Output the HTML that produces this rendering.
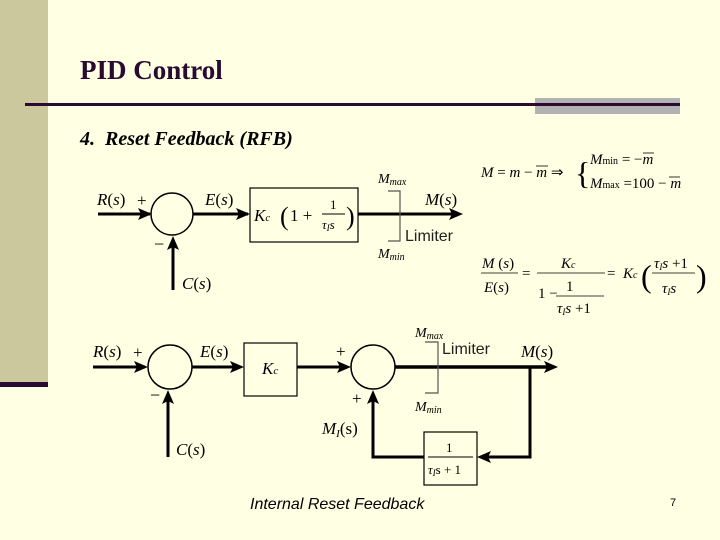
<!DOCTYPE html>
<html><head><meta charset="utf-8"><style>
body{margin:0;background:#FFFFE3;}
svg{display:block}
.s{font-family:"Liberation Serif",serif;}
</style></head><body>
<svg width="720" height="540" viewBox="0 0 720 540" xmlns="http://www.w3.org/2000/svg">
<rect width="720" height="540" fill="#FFFFE3"/>
<rect x="0" y="0" width="48" height="382" fill="#CCC89E"/>
<rect x="0" y="382" width="48" height="5" fill="#2A0A30"/>
<text x="80" y="79" class="s" font-size="27" font-weight="bold" fill="#2A0A30">PID Control</text>
<rect x="535" y="98" width="145" height="16" fill="#B2B2B2"/>
<rect x="25" y="103" width="655" height="3" fill="#2A0A30"/>
<text x="80" y="145" class="s" font-size="20" font-style="italic" font-weight="bold" fill="#000">4.&#160;&#160;Reset Feedback (RFB)</text>

<g stroke="#000" fill="none">
<line x1="98" y1="214" x2="150" y2="214" stroke-width="3"/>
<circle cx="172" cy="214" r="21" stroke-width="1.5"/>
<line x1="193" y1="214" x2="248" y2="214" stroke-width="3"/>
<rect x="250" y="188" width="108" height="54" stroke-width="1.2"/>
<line x1="358" y1="214" x2="455" y2="214" stroke-width="3"/>
<polyline points="388,191 400,191 400,241 388,241" stroke-width="1.2" stroke="#555"/>
<line x1="173" y1="290" x2="173" y2="242" stroke-width="3"/>
<line x1="93" y1="367" x2="145" y2="367" stroke-width="3"/>
<circle cx="170" cy="367" r="22" stroke-width="1.5"/>
<line x1="192" y1="367" x2="240" y2="367" stroke-width="3"/>
<rect x="244" y="343" width="53" height="53" stroke-width="1.2"/>
<line x1="297" y1="367" x2="346" y2="367" stroke-width="3"/>
<circle cx="373" cy="367" r="22" stroke-width="1.5"/>
<line x1="395" y1="367" x2="550" y2="367" stroke-width="3.5"/>
<polyline points="425,342 438,342 438,393 425,393" stroke-width="1.2" stroke="#555"/>
<polyline points="530,367 530,457 484,457" stroke-width="3"/>
<rect x="424" y="432" width="53" height="53" stroke-width="1.2"/>
<polyline points="424,457 373,457 373,398" stroke-width="3"/>
<line x1="168" y1="457" x2="168" y2="396" stroke-width="3"/>
</g>
<g fill="#000">
<polygon points="152,214 138,208 141,214 138,220"/>
<polygon points="250,214 236,208 239,214 236,220"/>
<polygon points="463,214 449,208 452,214 449,220"/>
<polygon points="173,236 167,250 173,247 179,250"/>
<polygon points="148,367 134,361 137,367 134,373"/>
<polygon points="244,367 230,361 233,367 230,373"/>
<polygon points="351,367 337,361 340,367 337,373"/>
<polygon points="558,367 544,361 547,367 544,373"/>
<polygon points="477,457 491,451 488,457 491,463"/>
<polygon points="373,390 367,404 373,401 379,404"/>
<polygon points="168,390 162,404 168,401 174,404"/>
</g>
<g class="s" font-size="17" fill="#000">
<text x="97" y="205"><tspan font-style="italic">R</tspan>(<tspan font-style="italic">s</tspan>)</text>
<text x="137" y="206">+</text>
<text x="205" y="205"><tspan font-style="italic">E</tspan>(<tspan font-style="italic">s</tspan>)</text>
<text x="425" y="205"><tspan font-style="italic">M</tspan>(<tspan font-style="italic">s</tspan>)</text>
<text x="182" y="289"><tspan font-style="italic">C</tspan>(<tspan font-style="italic">s</tspan>)</text>
<text x="154" y="250" font-size="18">−</text>
<text x="254" y="221"><tspan font-style="italic">K</tspan><tspan font-size="11" font-style="italic">c</tspan></text>
<text x="280" y="225" font-size="26">(</text>
<text x="290" y="221">1 +</text>
<text x="330" y="209" font-size="13">1</text>
<line x1="322" y1="214" x2="345" y2="214" stroke="#000" stroke-width="1"/>
<text x="322" y="229" font-size="13" font-style="italic">τ<tspan font-size="9" dy="2">I</tspan><tspan dy="-2">s</tspan></text>
<text x="346" y="225" font-size="26">)</text>
<text x="378" y="183" font-size="14" font-style="italic">M<tspan font-size="10" dy="2">max</tspan></text>
<text x="378" y="258" font-size="14" font-style="italic">M<tspan font-size="10" dy="2">min</tspan></text>

<text x="93" y="357"><tspan font-style="italic">R</tspan>(<tspan font-style="italic">s</tspan>)</text>
<text x="133" y="358">+</text>
<text x="200" y="357"><tspan font-style="italic">E</tspan>(<tspan font-style="italic">s</tspan>)</text>
<text x="262" y="374"><tspan font-style="italic">K</tspan><tspan font-size="11" font-style="italic">c</tspan></text>
<text x="336" y="357">+</text>
<text x="352" y="404">+</text>
<text x="150" y="401" font-size="18">−</text>
<text x="176" y="455"><tspan font-style="italic">C</tspan>(<tspan font-style="italic">s</tspan>)</text>
<text x="322" y="434"><tspan font-style="italic">M</tspan><tspan font-size="11" font-style="italic" dy="3">I</tspan><tspan dy="-3">(s)</tspan></text>
<text x="521" y="357"><tspan font-style="italic">M</tspan>(<tspan font-style="italic">s</tspan>)</text>
<text x="415" y="337" font-size="14" font-style="italic">M<tspan font-size="10" dy="2">max</tspan></text>
<text x="415" y="411" font-size="14" font-style="italic">M<tspan font-size="10" dy="2">min</tspan></text>
<text x="446" y="452" font-size="13">1</text>
<line x1="428" y1="457" x2="473" y2="457" stroke="#000" stroke-width="1"/>
<text x="428" y="474" font-size="13" font-style="italic">τ<tspan font-size="9" dy="2">I</tspan><tspan dy="-2" font-style="normal">s + 1</tspan></text>
</g>
<g font-family="Liberation Sans, sans-serif" font-size="16" fill="#222">
<text x="405" y="241">Limiter</text>
<text x="442" y="354">Limiter</text>
</g>
<text x="250" y="509" font-family="Liberation Sans, sans-serif" font-size="16" font-style="italic" fill="#000">Internal Reset Feedback</text>
<text x="670" y="506" font-family="Liberation Sans, sans-serif" font-size="11" fill="#000">7</text>

<g class="s" font-size="15" fill="#000">
<text x="481" y="177"><tspan font-style="italic">M</tspan> = <tspan font-style="italic">m</tspan> − <tspan font-style="italic">m</tspan> ⇒</text>
<line x1="536" y1="166" x2="548" y2="166" stroke="#000" stroke-width="0.8"/>
<text x="575" y="184" font-size="32" font-weight="100">{</text>
<text x="590" y="164"><tspan font-style="italic">M</tspan><tspan font-size="10">min</tspan> = −<tspan font-style="italic">m</tspan></text>
<line x1="643" y1="153" x2="654" y2="153" stroke="#000" stroke-width="0.8"/>
<text x="590" y="188"><tspan font-style="italic">M</tspan><tspan font-size="10">max</tspan> =100 − <tspan font-style="italic">m</tspan></text>
<line x1="669" y1="177" x2="680" y2="177" stroke="#000" stroke-width="0.8"/>

<text x="482" y="268"><tspan font-style="italic">M</tspan> (<tspan font-style="italic">s</tspan>)</text>
<line x1="481" y1="273" x2="518" y2="273" stroke="#000" stroke-width="0.8"/>
<text x="484" y="292"><tspan font-style="italic">E</tspan>(<tspan font-style="italic">s</tspan>)</text>
<text x="522" y="278">=</text>
<text x="561" y="268"><tspan font-style="italic">K</tspan><tspan font-size="10" font-style="italic">c</tspan></text>
<line x1="537" y1="273" x2="605" y2="273" stroke="#000" stroke-width="0.8"/>
<text x="538" y="298">1 −</text>
<text x="566" y="291">1</text>
<line x1="556" y1="296" x2="604" y2="296" stroke="#000" stroke-width="0.8"/>
<text x="557" y="313" font-style="italic">τ<tspan font-size="9" dy="2">I</tspan><tspan dy="-2">s</tspan><tspan font-style="normal"> +1</tspan></text>
<text x="607" y="278">=</text>
<text x="623" y="278"><tspan font-style="italic">K</tspan><tspan font-size="10" font-style="italic">c</tspan></text>
<text x="641" y="287" font-size="32" font-weight="100">(</text>
<text x="654" y="268" font-style="italic">τ<tspan font-size="9" dy="2">I</tspan><tspan dy="-2">s</tspan><tspan font-style="normal"> +1</tspan></text>
<line x1="652" y1="273" x2="695" y2="273" stroke="#000" stroke-width="0.8"/>
<text x="662" y="293" font-style="italic">τ<tspan font-size="9" dy="2">I</tspan><tspan dy="-2">s</tspan></text>
<text x="696" y="287" font-size="32" font-weight="100">)</text>
</g>
</svg>
</body></html>
